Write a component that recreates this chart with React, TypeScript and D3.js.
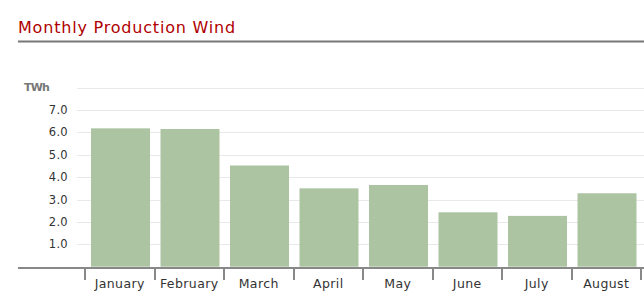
import React from "react";
import * as d3 from "d3";

const months = ["January", "February", "March", "April", "May", "June", "July", "August"];
const production = [6.18, 6.15, 4.52, 3.5, 3.65, 2.43, 2.27, 3.28];
const yTicks = [1, 2, 3, 4, 5, 6, 7, 8];

export default function App() {
  const W = 644, H = 308;
  const x = d3.scaleBand<string>().domain(months).range([85, 641]);
  const y = d3.scaleLinear().domain([0, 8]).range([266.7, 87.6]);
  const font = "Verdana, 'DejaVu Sans', sans-serif";
  return (
    <svg width={W} height={H} style={{ position: "absolute", left: 0, top: 0, background: "#fff" }}>
      <text x={18} y={33} fontFamily={font} fontSize={16} letterSpacing={0.8} fill="#b00000">Monthly Production Wind</text>
      <line x1={18} x2={644} y1={41.5} y2={41.5} stroke="#777" strokeWidth={2} />
      {yTicks.map((t) => (
        <line key={t} x1={77} x2={644} y1={Math.round(y(t)) + 0.5} y2={Math.round(y(t)) + 0.5} stroke="#e8e8e8" strokeWidth={1} />
      ))}
      {yTicks.filter((t) => t < 8).map((t) => (
        <text key={t} x={68} y={y(t) + 4} textAnchor="end" fontFamily={font} fontSize={11.5} letterSpacing={0.3} fill="#333">{d3.format(".1f")(t)}</text>
      ))}
      <text x={24} y={91} fontFamily={font} fontSize={11} fontWeight="bold" fill="#777" letterSpacing={-0.8}>TWh</text>
      {months.map((m, i) => {
        const bx = (x(m) as number) + 6;
        return (
          <rect key={m} x={bx} y={y(production[i])} width={59} height={y(0) - y(production[i])} fill="#adc4a3" />
        );
      })}
      <line x1={18} x2={644} y1={268} y2={268} stroke="#888" strokeWidth={2} />
      {[...months.map((m) => x(m) as number), 641].map((tx, i) => (
        <line key={i} x1={Math.round(tx)} x2={Math.round(tx)} y1={268} y2={280} stroke="#888" strokeWidth={2} />
      ))}
      {months.map((m) => (
        <text key={m} x={(x(m) as number) + x.bandwidth() / 2} y={288} textAnchor="middle" fontFamily={font} fontSize={12.5} letterSpacing={0.4} fill="#333">{m}</text>
      ))}
    </svg>
  );
}
